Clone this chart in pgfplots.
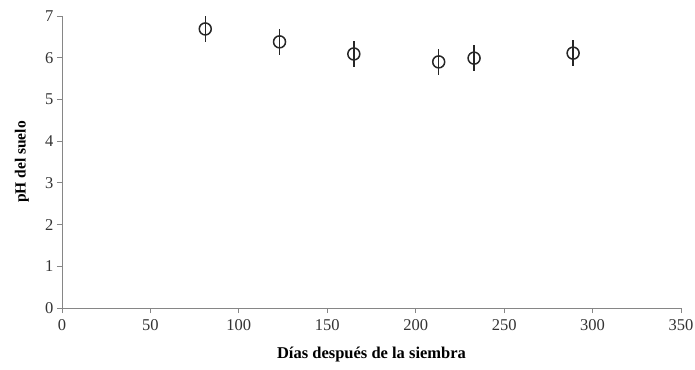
\documentclass[border=0pt]{standalone}
\usepackage{fontspec}
\setmainfont{Liberation Serif}
\usepackage{pgfplots}
\pgfplotsset{compat=1.18}
\definecolor{axgray}{RGB}{134,134,134}
\begin{document}
\begin{tikzpicture}
\useasboundingbox (-62pt,-61pt) rectangle (633pt,308pt);
\begin{axis}[
  at={(0,0)}, anchor=south west,
  scale only axis, width=619pt, height=292pt,
  xmin=0, xmax=350, ymin=0, ymax=7,
  xtick={0,50,...,350}, ytick={0,1,...,7},
  axis lines*=left,
  axis line style={axgray, line width=0.8pt},
  tick style={axgray, line width=0.8pt},
  tick align=outside, major tick length=5pt,
  /pgf/number format/assume math mode=true,
  ticklabel style={font=\fontsize{16.5}{18}\selectfont, text=black!80},
  xticklabel style={yshift=-3pt},
  xlabel={\textbf{Días después de la siembra}},
  ylabel={\textbf{pH del suelo}},
  xlabel style={font=\fontsize{16.5}{18}\selectfont, at={(axis description cs:0.5,-0.161)}, anchor=center},
  ylabel style={font=\fontsize{15.5}{18}\selectfont, at={(axis description cs:-0.0646,0.5)}, anchor=center},
  clip=false,
]
\addplot[only marks, mark=o, mark size=6pt, black!85, mark options={line width=1.5pt},
  error bars/.cd, y dir=both, y explicit,
  error bar style={black!85, line width=1.5pt}, error mark=none]
  coordinates {
  (81,6.69) +- (0,0.31)
  (123,6.38) +- (0,0.31)
  (165,6.09) +- (0,0.31)
  (213,5.90) +- (0,0.31)
  (233,5.99) +- (0,0.31)
  (289,6.11) +- (0,0.31)
  };
\end{axis}
\end{tikzpicture}
\end{document}
